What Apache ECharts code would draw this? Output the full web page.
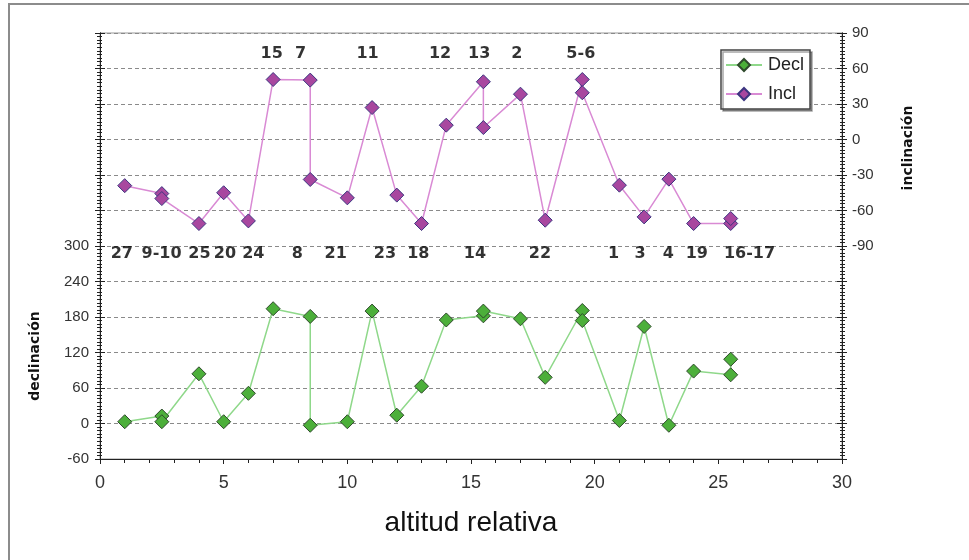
<!DOCTYPE html>
<html>
<head>
<meta charset="utf-8">
<script src="https://cdn.jsdelivr.net/npm/echarts@6/dist/echarts.min.js"></script>
<style>
  html, body { margin: 0; padding: 0; background: #ffffff; }
  #chart { width: 969px; height: 560px; }
</style>
</head>
<body>
<div id="chart"></div>
<script>
// Sample altitude (relative) and paleomagnetic directions per site
const altitude    = [1, 2.5, 2.5, 4, 5, 6, 7, 8.5, 8.5, 10, 11, 12, 13, 14, 15.5, 15.5, 17, 18, 19.5, 19.5, 21, 22, 23, 24, 25.5, 25.5];
const declinacion = [3, 12.6, 3, 84, 3, 51, 194, 181, -3, 3, 190, 14, 63, 175, 182, 190, 177, 78, 191, 174, 5, 164, -3, 88.6, 82.3, 108.6];
const inclinacion = [-39, -45.7, -49.9, -71, -45, -68.8, 50.7, 50.2, -33.8, -49.3, 27, -47, -71, 12.1, 48.8, 10.1, 38.3, -68.2, 50.7, 39.5, -38.6, -65.4, -33.5, -71, -71, -66.8];

// Site numbers written above / below the curves, at their altitude
const sitesTop      = ['15', '7', '11', '12', '13', '2', '5-6'];
const sitesTopAt    = [6.94, 8.11, 10.82, 13.75, 15.33, 16.85, 19.44];
const sitesBottom   = ['27', '9-10', '25', '20', '24', '8', '21', '23', '18', '14', '22', '1', '3', '4', '19', '16-17'];
const sitesBottomAt = [0.88, 2.49, 4.02, 5.05, 6.2, 7.98, 9.53, 11.52, 12.87, 15.16, 17.79, 20.76, 21.84, 22.98, 24.13, 26.26];

// Labelled ranges of the two vertical scales
const declRange = [-60, 300];
const inclRange = [-90, 90];

const FONT = "'Liberation Sans', Arial, sans-serif";
const BOLD_FONT = "'DejaVu Sans', sans-serif";
const AXIS_DARK = '#222';

const chart = echarts.init(document.getElementById('chart'), null, { renderer: 'canvas' });

const siteRowTop = 72;
const siteRowBottom = -97;
const siteData = sitesTop.map((s, i) => ({ name: s, value: [sitesTopAt[i], siteRowTop] }))
  .concat(sitesBottom.map((s, i) => ({ name: s, value: [sitesBottomAt[i], siteRowBottom] })));

function yAxisBase(extra) {
  return Object.assign({
    type: 'value',
    axisLine: { show: true, onZero: false, lineStyle: { color: AXIS_DARK, width: 1 } },
    axisTick: { show: true, length: 5, lineStyle: { color: AXIS_DARK } },
    minorTick: { show: true, splitNumber: 10, length: 3, lineStyle: { color: AXIS_DARK } },
    splitLine: { show: false },
    axisLabel: { show: false }
  }, extra);
}

const option = {
  backgroundColor: '#ffffff',
  animation: false,
  grid: { left: 100, right: 127, top: 33, bottom: 101, show: true, borderColor: '#999', borderWidth: 1 },
  legend: {
    data: ['Decl', 'Incl'],
    orient: 'vertical',
    left: 721,
    top: 50,
    padding: [6, 6, 6, 4],
    itemGap: 11,
    itemWidth: 36,
    itemHeight: 15,
    backgroundColor: '#ffffff',
    borderColor: '#444',
    borderWidth: 1.5,
    shadowColor: 'rgba(0,0,0,0.35)',
    shadowOffsetX: 2,
    shadowOffsetY: 2,
    shadowBlur: 0,
    textStyle: { fontFamily: FONT, fontSize: 18, color: '#222', padding: [0, 0, 0, 1] }
  },
  xAxis: {
    type: 'value',
    min: 0, max: 30, interval: 5,
    name: 'altitud relativa',
    nameLocation: 'middle',
    nameGap: 50,
    nameTextStyle: { fontFamily: FONT, fontSize: 28, color: '#111' },
    axisLine: { show: true, onZero: false, lineStyle: { color: AXIS_DARK } },
    axisTick: { show: true, length: 5, lineStyle: { color: AXIS_DARK } },
    minorTick: { show: true, splitNumber: 5, length: 4, lineStyle: { color: AXIS_DARK } },
    splitLine: { show: false },
    axisLabel: { fontFamily: FONT, fontSize: 18, color: '#333', margin: 15 }
  },
  yAxis: [
    // declinación (left), extended upward so it shares the plot with inclinación
    yAxisBase({
      position: 'left',
      min: -60, max: 660, interval: 60,
      splitLine: { show: true, lineStyle: { color: '#8a8a8a', type: [4, 3], width: 1 } },
      axisLabel: {
        show: true, fontFamily: FONT, fontSize: 15, color: '#333', margin: 11,
        formatter: v => (v >= declRange[0] && v <= declRange[1]) ? String(v) : ''
      }
    }),
    // inclinación (right), extended downward
    yAxisBase({
      position: 'right',
      min: -270, max: 90, interval: 30,
      axisLabel: {
        show: true, fontFamily: FONT, fontSize: 15, color: '#333', margin: 10,
        formatter: v => (v >= inclRange[0] && v <= inclRange[1]) ? String(v) : ''
      }
    }),
    // inner halves of the crossing ticks
    yAxisBase({ position: 'left', min: -60, max: 660, interval: 60,
      axisTick: { show: true, inside: true, length: 5, lineStyle: { color: AXIS_DARK } },
      minorTick: { show: true, splitNumber: 10, length: 2, lineStyle: { color: AXIS_DARK } } }),
    yAxisBase({ position: 'right', min: -270, max: 90, interval: 30,
      axisTick: { show: true, inside: true, length: 5, lineStyle: { color: AXIS_DARK } },
      minorTick: { show: true, splitNumber: 10, length: 2, lineStyle: { color: AXIS_DARK } } })
  ],
  graphic: [
    { type: 'rect', silent: true, z: -1,
      shape: { x: 9, y: 4, width: 1000, height: 1000 },
      style: { fill: 'none', stroke: '#8c8c8c', lineWidth: 2 } },
    { type: 'text', x: 35, y: 356, rotation: Math.PI / 2,
      style: { text: 'declinación', fontFamily: BOLD_FONT, fontWeight: 'bold', fontSize: 14,
               fill: '#111', textAlign: 'center', textVerticalAlign: 'middle' } },
    { type: 'text', x: 908, y: 148, rotation: Math.PI / 2,
      style: { text: 'inclinación', fontFamily: BOLD_FONT, fontWeight: 'bold', fontSize: 14,
               fill: '#111', textAlign: 'center', textVerticalAlign: 'middle' } }
  ],
  series: [
    {
      name: 'Decl',
      type: 'line',
      yAxisIndex: 0,
      data: altitude.map((x, i) => [x, declinacion[i]]),
      symbol: 'diamond',
      symbolSize: 14,
      lineStyle: { color: '#8fd88a', width: 1.5 },
      itemStyle: { color: '#4caf3a', borderColor: '#2f4a2c', borderWidth: 1 },
      emphasis: { disabled: true },
      z: 3
    },
    {
      name: 'Incl',
      type: 'line',
      yAxisIndex: 1,
      data: altitude.map((x, i) => [x, inclinacion[i]]),
      symbol: 'diamond',
      symbolSize: 14,
      lineStyle: { color: '#d98ad4', width: 1.5 },
      itemStyle: { color: '#a8479f', borderColor: '#3c3580', borderWidth: 1 },
      emphasis: { disabled: true },
      z: 3
    },
    {
      name: 'sitios',
      type: 'scatter',
      yAxisIndex: 1,
      data: siteData,
      symbolSize: 0,
      silent: true,
      label: {
        show: true,
        position: 'inside',
        formatter: p => p.name,
        fontFamily: BOLD_FONT,
        fontWeight: 'bold',
        fontSize: 16,
        color: '#000'
      },
      z: 4
    }
  ]
};

chart.setOption(option);
</script>
</body>
</html>
